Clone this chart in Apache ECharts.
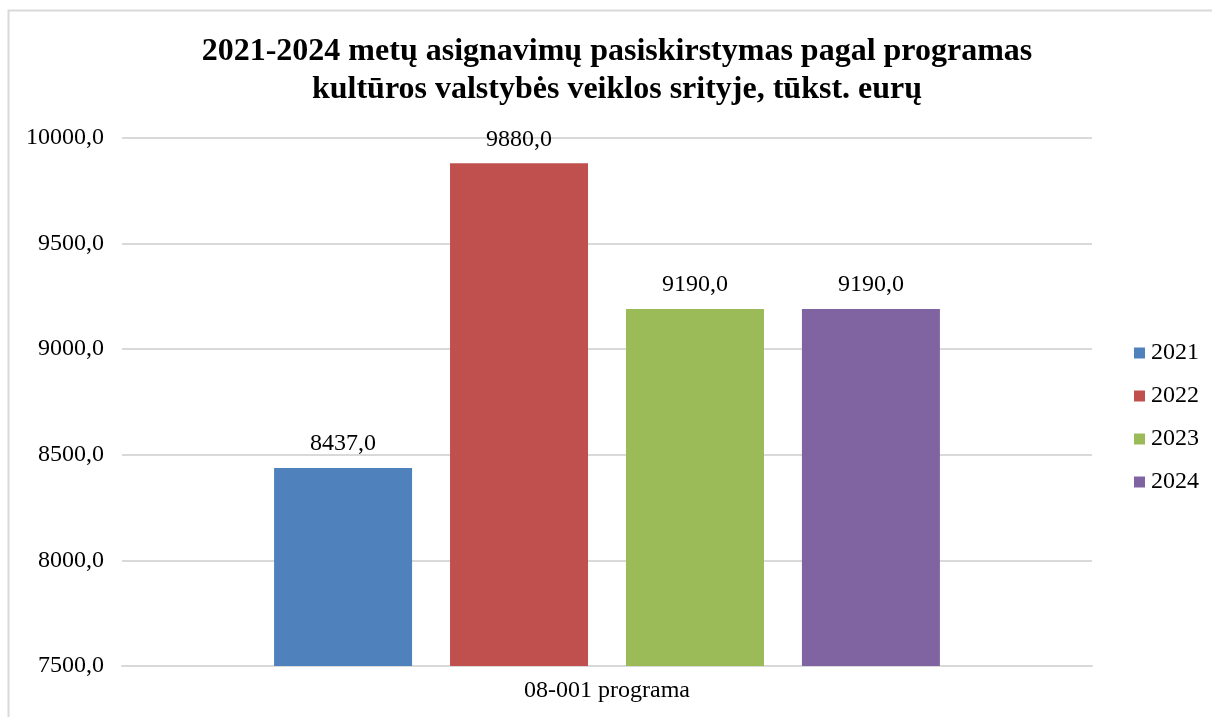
<!DOCTYPE html>
<html>
<head>
<meta charset="utf-8">
<script src="https://cdn.jsdelivr.net/npm/echarts@6/dist/echarts.min.js"></script>
<style>html,body{margin:0;padding:0;background:#fff}#c{width:1213px;height:717px}</style>
</head>
<body>
<div id="c"></div>
<script>
const categories = ['08-001 programa'];
const seriesNames = ['2021', '2022', '2023', '2024'];
const values2021 = [8437.0];
const values2022 = [9880.0];
const values2023 = [9190.0];
const values2024 = [9190.0];
const yTicks = [7500, 8000, 8500, 9000, 9500, 10000];
const titleText = '2021-2024 metų asignavimų pasiskirstymas pagal programas\nkultūros valstybės veiklos srityje, tūkst. eurų';

const colors = ['#4F81BD', '#C0504D', '#9BBB59', '#8064A2'];
const allValues = [values2021, values2022, values2023, values2024];
const font = '"Liberation Serif", "Times New Roman", serif';
const fmt = v => v.toFixed(1).replace('.', ',');

const chart = echarts.init(document.getElementById('c'));
chart.setOption({
  animation: false,
  color: colors,
  textStyle: { fontFamily: font },
  graphic: [{
    type: 'polyline',
    shape: { points: [[8.5, 717], [8.5, 10.5], [1212, 10.5]] },
    style: { stroke: '#d9d9d9', lineWidth: 2, fill: null },
    silent: true
  }, {
    type: 'text',
    x: 617,
    y: 33,
    silent: true,
    style: {
      text: titleText,
      fill: '#000',
      font: 'bold 32px ' + font,
      lineHeight: 38,
      align: 'center',
      verticalAlign: 'top'
    }
  }],
  legend: {
    orient: 'vertical',
    left: 1129,
    top: 336,
    itemWidth: 11,
    itemHeight: 11,
    itemGap: 19,
    icon: 'rect',
    textStyle: { fontFamily: font, fontSize: 24, color: '#000', padding: [0, 0, 0, 1] },
    data: seriesNames
  },
  grid: { left: 122, right: 121, top: 138, bottom: 51, containLabel: false },
  xAxis: {
    type: 'category',
    data: categories,
    axisLine: { lineStyle: { color: '#d9d9d9', width: 2 } },
    axisTick: { show: false },
    axisLabel: { fontFamily: font, fontSize: 24, color: '#000', margin: 13 }
  },
  yAxis: {
    type: 'value',
    min: yTicks[0],
    max: yTicks[yTicks.length - 1],
    interval: yTicks[1] - yTicks[0],
    axisLine: { show: false },
    axisTick: { show: false },
    splitLine: { lineStyle: { color: '#d9d9d9', width: 2 } },
    axisLabel: { fontFamily: font, fontSize: 24, color: '#000', margin: 18, formatter: v => fmt(v) }
  },
  series: seriesNames.map((name, i) => ({
    name,
    type: 'bar',
    data: allValues[i],
    barWidth: 138,
    barGap: '27.5%',
    itemStyle: { color: colors[i] },
    label: {
      show: true,
      position: 'top',
      distance: 12,
      fontFamily: font,
      fontSize: 24,
      color: '#000',
      formatter: p => fmt(p.value)
    }
  }))
});
</script>
</body>
</html>
